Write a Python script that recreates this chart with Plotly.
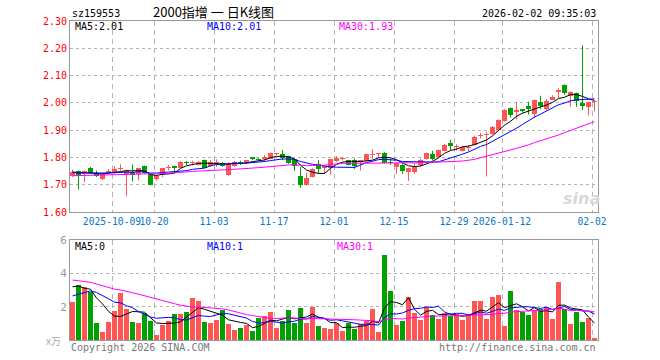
import numpy as np
import plotly.graph_objects as go

# ---------------- data ----------------
months = {
    "2025-09": [22, 23, 24, 25, 26, 29, 30],
    "2025-10": [9, 10, 13, 14, 15, 16, 17, 20, 21, 22, 23, 24, 27, 28, 29, 30, 31],
    "2025-11": [3, 4, 5, 6, 7, 10, 11, 12, 13, 14, 17, 18, 19, 20, 21, 24, 25, 26, 27, 28],
    "2025-12": [1, 2, 3, 4, 5, 8, 9, 10, 11, 12, 15, 16, 17, 18, 19, 22, 23, 24, 25, 26, 29, 30, 31],
    "2026-01": [5, 6, 7, 8, 9, 12, 13, 14, 15, 16, 19, 20, 21, 22, 23, 26, 27, 28, 29, 30],
    "2026-02": [2],
}
dates = [f"{m}-{d:02d}" for m, ds in months.items() for d in ds]

tick_dates = ["2025-10-09", "2025-10-20", "2025-11-03", "2025-11-17", "2025-12-01",
              "2025-12-15", "2025-12-29", "2026-01-12", "2026-02-02"]
tick_labels = ["2025-10-09", "10-20", "11-03", "11-17", "12-01",
               "12-15", "12-29", "2026-01-12", "02-02"]

opens = [1.732, 1.749, 1.740, 1.760, 1.742, 1.722, 1.744, 1.744, 1.756, 1.741,
         1.745, 1.741, 1.768, 1.741, 1.720, 1.736, 1.762, 1.768, 1.760, 1.783,
         1.780, 1.773, 1.790, 1.770, 1.775, 1.781, 1.736, 1.768, 1.783, 1.778,
         1.797, 1.796, 1.793, 1.796, 1.811, 1.812, 1.805, 1.793, 1.731, 1.699,
         1.728, 1.775, 1.762, 1.762, 1.786, 1.795, 1.790, 1.792, 1.785, 1.786,
         1.808, 1.811, 1.817, 1.780, 1.765, 1.772, 1.746, 1.746, 1.772, 1.793,
         1.812, 1.802, 1.825, 1.852, 1.838, 1.824, 1.836, 1.845, 1.880, 1.881,
         1.887, 1.900, 1.934, 1.982, 1.966, 1.973, 1.987, 1.960, 2.002, 1.977,
         2.011, 2.039, 2.064, 2.025, 2.037, 2.001, 1.984, 2.003]
highs = [1.755, 1.752, 1.752, 1.765, 1.752, 1.745, 1.757, 1.768, 1.775, 1.755,
         1.774, 1.762, 1.770, 1.742, 1.735, 1.762, 1.772, 1.768, 1.787, 1.787,
         1.788, 1.786, 1.792, 1.790, 1.793, 1.784, 1.782, 1.787, 1.788, 1.792,
         1.800, 1.798, 1.808, 1.818, 1.817, 1.827, 1.806, 1.795, 1.765, 1.743,
         1.760, 1.790, 1.772, 1.795, 1.805, 1.801, 1.791, 1.795, 1.791, 1.813,
         1.830, 1.815, 1.819, 1.795, 1.780, 1.778, 1.762, 1.778, 1.795, 1.817,
         1.824, 1.829, 1.849, 1.865, 1.848, 1.842, 1.845, 1.880, 1.890, 1.894,
         1.915, 1.940, 1.977, 1.983, 2.002, 1.977, 2.004, 2.012, 2.026, 2.014,
         2.028, 2.054, 2.068, 2.042, 2.038, 2.211, 2.003, 2.006]
lows = [1.728, 1.683, 1.709, 1.742, 1.728, 1.717, 1.741, 1.740, 1.751, 1.659,
        1.712, 1.716, 1.740, 1.697, 1.715, 1.728, 1.753, 1.741, 1.760, 1.772,
        1.771, 1.770, 1.760, 1.766, 1.766, 1.765, 1.733, 1.766, 1.772, 1.776,
        1.790, 1.788, 1.788, 1.795, 1.807, 1.790, 1.776, 1.751, 1.689, 1.696,
        1.727, 1.740, 1.740, 1.737, 1.784, 1.789, 1.771, 1.758, 1.752, 1.785,
        1.795, 1.802, 1.778, 1.772, 1.740, 1.740, 1.714, 1.740, 1.765, 1.792,
        1.788, 1.800, 1.822, 1.827, 1.825, 1.822, 1.823, 1.843, 1.870, 1.730,
        1.884, 1.898, 1.932, 1.946, 1.940, 1.964, 1.957, 1.944, 1.978, 1.973,
        2.010, 2.018, 2.030, 1.985, 1.985, 1.974, 1.953, 1.969]
closes = [1.748, 1.731, 1.749, 1.744, 1.731, 1.741, 1.749, 1.756, 1.763, 1.750,
          1.735, 1.760, 1.742, 1.700, 1.731, 1.760, 1.764, 1.760, 1.783, 1.781,
          1.782, 1.785, 1.763, 1.782, 1.783, 1.769, 1.780, 1.783, 1.775, 1.790,
          1.796, 1.790, 1.802, 1.817, 1.813, 1.798, 1.778, 1.768, 1.699, 1.726,
          1.757, 1.757, 1.767, 1.793, 1.799, 1.797, 1.772, 1.767, 1.789, 1.812,
          1.810, 1.813, 1.780, 1.778, 1.778, 1.751, 1.760, 1.765, 1.790, 1.815,
          1.796, 1.827, 1.847, 1.842, 1.840, 1.838, 1.840, 1.876, 1.882, 1.884,
          1.913, 1.936, 1.975, 1.954, 1.974, 1.972, 1.978, 2.011, 1.990, 2.008,
          2.022, 2.048, 2.035, 2.038, 2.008, 1.990, 2.002, 2.005]
volumes = [2.27, 3.30, 3.16, 2.90, 1.00, 0.46, 1.07, 1.73, 2.82, 1.85,
           1.07, 1.00, 1.60, 1.15, 0.30, 0.90, 1.15, 1.57, 1.55, 1.69,
           2.53, 2.35, 1.09, 1.00, 1.19, 1.81, 0.97, 0.60, 0.70, 0.90,
           0.52, 1.35, 1.47, 1.69, 0.72, 1.13, 1.79, 1.03, 1.93, 1.03,
           2.00, 0.85, 0.70, 0.65, 1.00, 0.52, 1.00, 0.64, 0.99, 1.17,
           1.85, 0.46, 5.11, 2.94, 0.90, 1.17, 2.56, 1.65, 1.19, 2.01,
           1.51, 1.27, 1.65, 1.43, 1.55, 1.19, 1.55, 2.33, 2.33, 1.25,
           2.58, 2.70, 0.85, 2.94, 1.79, 1.67, 1.49, 1.81, 1.85, 1.97,
           1.29, 3.48, 1.89, 0.95, 1.67, 1.07, 1.31, 0.10]

# estimated sessions before the visible window (only feed the moving averages)
prev_closes = [1.710, 1.720, 1.715, 1.730, 1.725, 1.735, 1.720, 1.730, 1.740, 1.725,
               1.730, 1.720, 1.735, 1.740, 1.730, 1.725, 1.735, 1.730, 1.720, 1.730,
               1.738, 1.745, 1.740, 1.736, 1.746, 1.750, 1.744, 1.748, 1.745]
prev_volumes = [4.5, 3.8, 5.2, 4.1, 3.6, 4.9, 3.9, 4.4, 3.7, 4.2,
                3.5, 4.6, 3.8, 4.0, 3.3, 4.3, 3.9, 4.1, 3.8, 3.9,
                2.4, 1.8, 2.2, 1.9, 2.2, 3.1, 3.8, 3.2, 3.6]

price_ma_labels = ["MA5:2.01", "MA10:2.01", "MA30:1.93"]
vol_ma_labels = ["MA5:0", "MA10:1", "MA30:1"]

# ---------------- helpers ----------------
def moving_avg(hist, vals, n):
    arr = np.array(hist + vals, dtype=float)
    h = len(hist)
    return [arr[k - n + 1:k + 1].mean() for k in range(h, len(arr))]

N = len(dates)
idx = list(range(N))
RED = "#ff5555"
GREEN = "#00a000"
MA_COLORS = ["#000000", "#0000ff", "#ff00ff"]
MONO = "DejaVu Sans Mono"

up = [c >= o for o, c in zip(opens, closes)]
colors = [RED if u else GREEN for u in up]
body_base = [min(o, c) for o, c in zip(opens, closes)]
body_h = [max(abs(c - o), 0.004) for o, c in zip(opens, closes)]

fig = go.Figure()

# wicks
for flag, col in [(True, RED), (False, GREEN)]:
    wx, wy = [], []
    for i in idx:
        if up[i] == flag:
            wx += [i, i, None]
            wy += [lows[i], highs[i], None]
    fig.add_trace(go.Scatter(x=wx, y=wy, mode="lines", line=dict(color=col, width=1),
                             hoverinfo="skip", xaxis="x", yaxis="y"))

# bodies
fig.add_trace(go.Bar(x=idx, y=body_h, base=body_base, width=0.8,
                     marker=dict(color=colors, line=dict(width=0)),
                     xaxis="x", yaxis="y"))

# price MAs
for n, col in zip([5, 10, 30], MA_COLORS):
    fig.add_trace(go.Scatter(x=idx, y=moving_avg(prev_closes, closes, n), mode="lines",
                             line=dict(color=col, width=1), xaxis="x", yaxis="y"))

# volume bars
fig.add_trace(go.Bar(x=idx, y=volumes, width=0.8,
                     marker=dict(color=colors, line=dict(width=0)),
                     xaxis="x2", yaxis="y2"))
for n, col in zip([5, 10, 30], MA_COLORS):
    fig.add_trace(go.Scatter(x=idx, y=moving_avg(prev_volumes, volumes, n), mode="lines",
                             line=dict(color=col, width=1), xaxis="x2", yaxis="y2"))

# ---------------- layout ----------------
L, R, T, B = 70, 598, 21, 340
W, H = 660, 360
top_y0, top_y1 = 21, 212
vol_y0, vol_y1 = 240, 340

def px(xp):
    return (xp - L) / (R - L)

def py(yp):
    return (B - yp) / (B - T)

off = 0.42
xrange = [-off, N - off]
tick_pos = [dates.index(d) - off for d in tick_dates]

grid_col = "#b4b4b4"
frame_col = "#999999"

common_x = dict(range=xrange, tickvals=tick_pos, showgrid=True, gridcolor=grid_col,
                griddash="5px,4px", gridwidth=1, showline=True, mirror=True,
                linecolor=frame_col, linewidth=1, zeroline=False, ticks="",
                fixedrange=True, automargin=False, tickangle=0)

price_ticks = [round(1.6 + 0.1 * k, 2) for k in range(8)]

fig.update_layout(
    width=W, height=H,
    margin=dict(l=L, r=W - R, t=T, b=H - B, pad=0, autoexpand=False),
    paper_bgcolor="white", plot_bgcolor="white",
    showlegend=False, barmode="overlay", bargap=0,
    xaxis=dict(common_x, anchor="y", domain=[0, 1], ticktext=tick_labels,
               tickfont=dict(family=MONO, size=9.7, color="#0a78c8")),
    xaxis2=dict(common_x, anchor="y2", domain=[0, 1], showticklabels=False),
    yaxis=dict(domain=[py(top_y1), py(top_y0)], range=[1.6, 2.3], tickvals=price_ticks,
               ticktext=[f"{v:.2f}" for v in price_ticks], showgrid=True,
               gridcolor=grid_col, griddash="dot", gridwidth=1, showline=True,
               mirror=True, linecolor=frame_col, zeroline=False, ticks="",
               automargin=False, fixedrange=True,
               tickfont=dict(family=MONO, size=10, color="#ff0000")),
    yaxis2=dict(domain=[0, py(vol_y0)], range=[0, 6], tickvals=[2, 4, 6],
                ticktext=["2", "4", "6"], showgrid=True, gridcolor=grid_col,
                griddash="dot", gridwidth=1, showline=True, mirror=True,
                linecolor=frame_col, zeroline=False, ticks="", automargin=False,
                fixedrange=True,
                tickfont=dict(family=MONO, size=11, color="#999999")),
)

def ann(text, x, y, color="#000000", size=10, family=MONO, xanchor="left"):
    fig.add_annotation(text=text, x=px(x), y=py(y), xref="paper", yref="paper",
                       showarrow=False, xanchor=xanchor, yanchor="middle",
                       font=dict(family=family, size=size, color=color))

# header
ann("sz159553", 70, 13)
ann("2000指增 一 日K线图", 213, 12, size=13, family="Noto Sans CJK SC", xanchor="center")
ann("2026-02-02 09:35:03", 598, 13, xanchor="right")

# MA legends
for txt, xx, col in zip(price_ma_labels, [73, 205, 337], MA_COLORS):
    ann(txt, xx, 27, color=col)
for txt, xx, col in zip(vol_ma_labels, [73, 205, 335], MA_COLORS):
    ann(txt, xx, 247, color=col)

# footer
ann("x万", 63, 340, color="#aaaaaa", size=10, family="Noto Sans CJK SC", xanchor="right")
ann("Copyright 2026 SINA.COM", 69, 347, color="#777777")
ann("http://finance.sina.com.cn", 598, 347, color="#777777", xanchor="right")
# watermark
ann("<i><b>sina</b></i>", 581, 198, color="#d8d8d8", size=16, family="DejaVu Sans", xanchor="center")

fig.write_html("out.html", config={"displayModeBar": False, "staticPlot": True},
               post_script="document.body.style.margin='0';")
